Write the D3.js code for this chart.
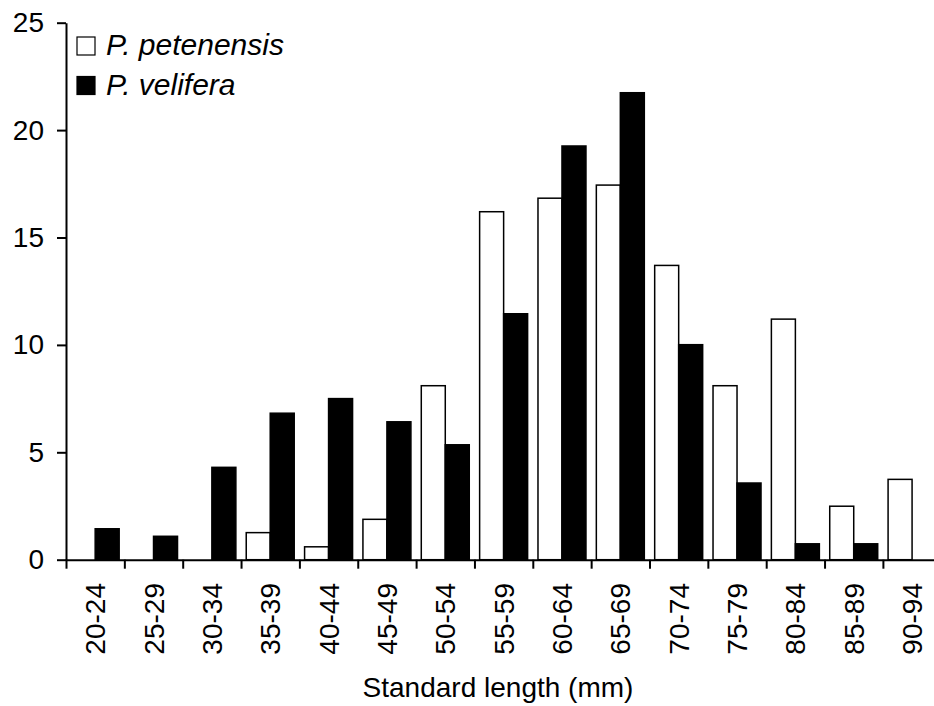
<!DOCTYPE html>
<html>
<head>
<meta charset="utf-8">
<script src="https://cdn.jsdelivr.net/npm/d3@7"></script>
<style>
  body { margin: 0; background: #fff; }
  svg { display: block; font-family: "Liberation Sans", Arial, sans-serif; }
</style>
</head>
<body>
<div id="chart"></div>
<script>
const width = 934;
const height = 706;

// size classes (mm)
const classes = ["20-24", "25-29", "30-34", "35-39", "40-44", "45-49", "50-54",
  "55-59", "60-64", "65-69", "70-74", "75-79", "80-84", "85-89", "90-94"];
// percent of fish per class
const petenensis = [0, 0, 0, 1.26, 0.6, 1.88, 8.1, 16.2, 16.83, 17.44, 13.7, 8.1, 11.2, 2.49, 3.74];
const velifera = [1.44, 1.09, 4.3, 6.82, 7.5, 6.42, 5.35, 11.45, 19.26, 21.74, 10.01, 3.57, 0.74, 0.74, 0];
const yTicks = [0, 5, 10, 15, 20, 25];
const seriesNames = ["P. petenensis", "P. velifera"];
const seriesColors = ["#fff", "#000"];

const x0 = 66, step = 58.35;
const y0 = 559.7, yTop = 22.7;

const svg = d3.select("#chart").append("svg")
  .attr("width", width)
  .attr("height", height);

const x = d3.scaleBand()
  .domain(classes)
  .range([x0, x0 + step * classes.length])
  .padding(0);

const xs = d3.scaleBand()
  .domain(seriesNames)
  .range([0, x.bandwidth()])
  .paddingInner(0)
  .paddingOuter(0.216);

const y = d3.scaleLinear().domain([0, 25]).range([y0, yTop]);

// bars
const rows = classes.map((c, i) => ({ cls: c, vals: [petenensis[i], velifera[i]] }));

const groups = svg.append("g")
  .selectAll("g")
  .data(rows)
  .enter()
  .append("g")
  .attr("transform", d => "translate(" + x(d.cls) + ",0)");

groups.selectAll("rect")
  .data(d => d.vals.map((v, j) => ({ v: v, j: j })).filter(e => e.v > 0))
  .enter()
  .append("rect")
  .attr("x", d => xs(seriesNames[d.j]))
  .attr("y", d => y(d.v))
  .attr("width", xs.bandwidth())
  .attr("height", d => y0 - y(d.v))
  .attr("fill", d => seriesColors[d.j])
  .attr("stroke", "#000")
  .attr("stroke-width", 1.5);

// x axis: ticks on class boundaries
const xb = d3.scaleLinear().domain([0, classes.length]).range([x0, x0 + step * classes.length]);
const xAxis = svg.append("g")
  .attr("transform", "translate(0," + y0 + ")")
  .call(d3.axisBottom(xb).tickValues(d3.range(classes.length)).tickSize(9).tickSizeOuter(0).tickFormat(""));
xAxis.select(".domain").attr("stroke-width", 2);
xAxis.selectAll(".tick line").attr("stroke-width", 2);

svg.append("g")
  .selectAll("text")
  .data(classes)
  .enter()
  .append("text")
  .attr("transform", d => "translate(" + (x(d) + x.bandwidth() / 2) + ",583) rotate(-90)")
  .attr("text-anchor", "end")
  .attr("dy", "0.36em")
  .style("font-size", "28px")
  .text(d => d);

// y axis
const yAxis = svg.append("g")
  .attr("transform", "translate(" + x0 + ",0)")
  .call(d3.axisLeft(y).tickValues(yTicks).tickSize(9).tickPadding(13).tickSizeOuter(0));
yAxis.select(".domain").attr("stroke-width", 2);
yAxis.selectAll(".tick line").attr("stroke-width", 2);
yAxis.selectAll(".tick text")
  .style("font-size", "28px")
  .style("font-family", "'Liberation Sans', Arial, sans-serif")
  .attr("fill", "#000");

// axis title
svg.append("text")
  .attr("x", 498)
  .attr("y", 697)
  .attr("text-anchor", "middle")
  .style("font-size", "28px")
  .text("Standard length (mm)");

// legend
const legend = svg.append("g").attr("transform", "translate(77,37)");
const item = legend.selectAll("g")
  .data(seriesNames)
  .enter()
  .append("g")
  .attr("transform", (d, i) => "translate(0," + i * 39.5 + ")");

item.append("rect")
  .attr("width", 18)
  .attr("height", 18)
  .attr("fill", (d, i) => seriesColors[i])
  .attr("stroke", "#000")
  .attr("stroke-width", 1.2);

item.append("text")
  .attr("x", 29)
  .attr("y", 18)
  .style("font-size", "30px")
  .style("font-style", "italic")
  .text(d => d);
</script>
</body>
</html>
